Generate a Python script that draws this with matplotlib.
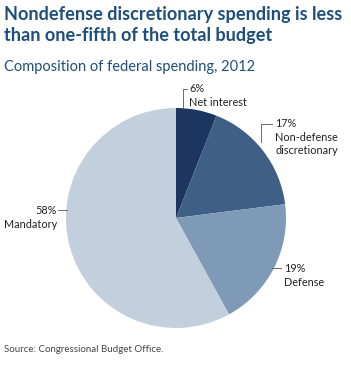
import matplotlib

matplotlib.use("Agg")
import matplotlib.pyplot as plt

W, H = 351, 365

CATEGORIES = ["Net interest", "Non-defense\ndiscretionary", "Defense", "Mandatory"]
SHARES = [6, 17, 19, 58]
COLORS = ["#1c3561", "#3f5f86", "#7f9ab6", "#c2cfdd"]

TITLE = "Nondefense discretionary spending is less\nthan one-fifth of the total budget"
SUBTITLE = "Composition of federal spending, 2012"
SOURCE = "Source: Congressional Budget Office."

plt.rcParams["font.family"] = ["Lato", "DejaVu Sans"]

fig = plt.figure(figsize=(W / 100, H / 100), dpi=100)
ax = fig.add_axes([0, 0, 1, 1])


def Y(py):
    return H - py


ax.pie(SHARES, colors=COLORS, startangle=90, counterclock=False,
       center=(176, Y(218)), radius=110, frame=True,
       wedgeprops={"linewidth": 0})
ax.set_xlim(0, W)
ax.set_ylim(0, H)
ax.set_aspect("equal")
ax.axis("off")

ax.text(4, Y(6), TITLE, fontsize=13.1, fontweight="bold", color="#1d4f7c",
        va="top", ha="left", linespacing=1.3)
ax.text(4, Y(60), SUBTITLE, fontsize=10.5, color="#1d4f7c", va="top", ha="left")
ax.text(4, Y(345), SOURCE, fontsize=7, color="#444444", va="top", ha="left")

lc = "#555555"
lab = dict(fontsize=7.8, color="#222222", linespacing=1.3)

# Net interest
ax.plot([183, 183, 187], [Y(108), Y(89), Y(89)], color=lc, lw=0.6)
ax.text(189, Y(83), f"{SHARES[0]}%\n{CATEGORIES[0]}", va="top", ha="left", **lab)

# Non-defense discretionary
ax.plot([261, 261, 272], [Y(142), Y(124), Y(124)], color=lc, lw=0.6)
ax.text(275, Y(118), f"{SHARES[1]}%\n{CATEGORIES[1]}", va="top", ha="left", **lab)

# Defense
ax.plot([272, 281], [Y(268), Y(268)], color=lc, lw=0.6)
ax.text(284, Y(263), f"{SHARES[2]}%\n{CATEGORIES[2]}", va="top", ha="left", **lab)

# Mandatory
ax.plot([58, 67], [Y(210), Y(210)], color=lc, lw=0.6)
ax.text(57, Y(205), f"{SHARES[3]}%\n{CATEGORIES[3]}", va="top", ha="right",
        multialignment="right", **lab)

fig.savefig("out.png", dpi=100)
